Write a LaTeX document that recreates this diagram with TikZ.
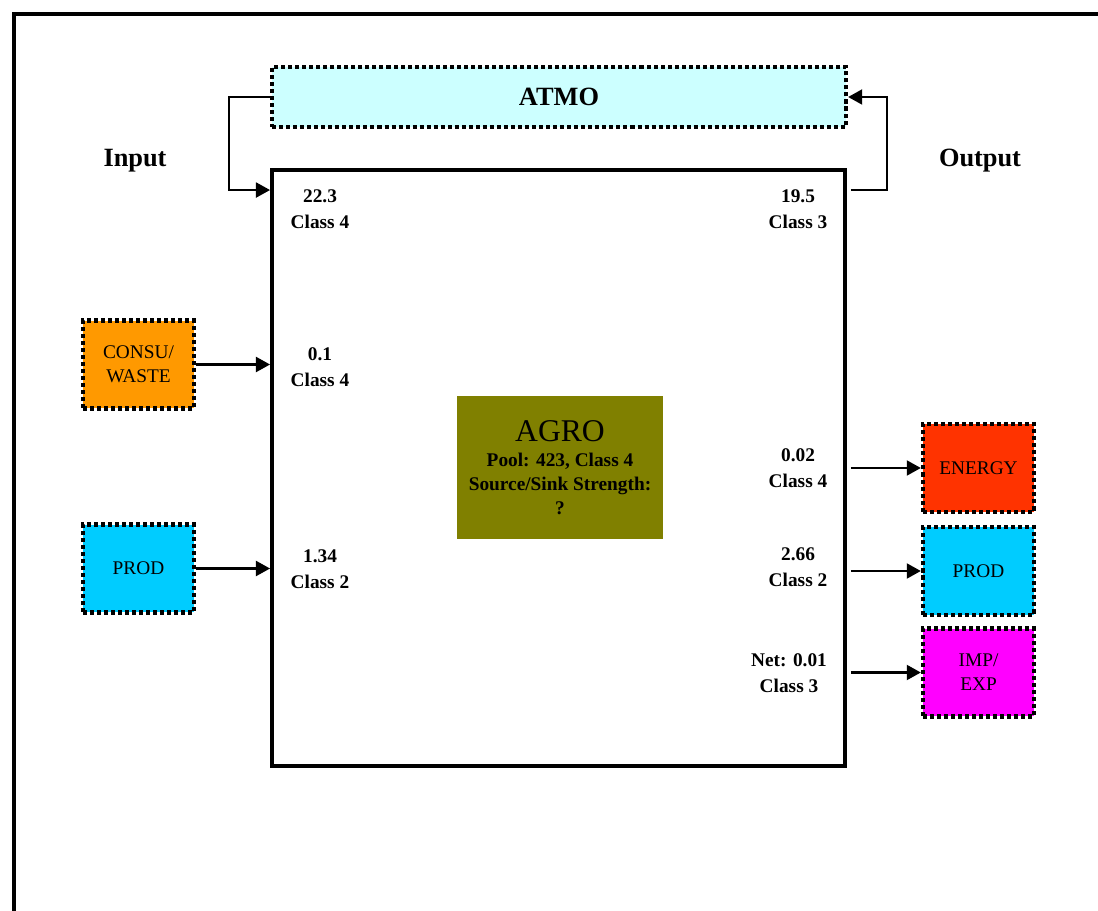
\documentclass[tikz,border=0pt]{standalone}
\usepackage{fontspec}
\setmainfont{Liberation Serif}
\usepackage{tikz}
\usepackage{xcolor}
\usetikzlibrary{arrows.meta,positioning,calc}
\definecolor{atmobg}{HTML}{CCFFFF}
\definecolor{consubg}{HTML}{FF9900}
\definecolor{prodbg}{HTML}{00CCFF}
\definecolor{agrobg}{HTML}{808000}
\definecolor{energybg}{HTML}{FF3300}
\definecolor{impbg}{HTML}{FF00FF}
\tikzset{
  poolbox/.style={draw=black,line width=2.5pt,dash pattern=on 2.3pt off 1.7pt,
                  minimum width=2.22cm,minimum height=1.76cm,
                  align=center,font=\fontsize{11}{13.6}\selectfont,inner sep=2pt},
  systembox/.style={draw=black,line width=2.3pt,
                    minimum width=11.46cm,minimum height=11.92cm,inner sep=0pt},
  flowlabel/.style={align=center,font=\fontsize{11}{14.7}\selectfont\bfseries,inner sep=1pt},
  sidehead/.style={font=\fontsize{15}{18}\selectfont\bfseries},
  flowarr/.style={-{Triangle[length=8pt,width=8.5pt]},line width=1.3pt}
}

\begin{document}
\begin{tikzpicture}[x=0.02cm,y=-0.02cm]
  \useasboundingbox (0,0) rectangle (1098,911);
  \draw[line width=2.3pt] (14,911) -- (14,14) -- (1098,14);

  \node[systembox] (main) at (558.5,468) {};
  \node[poolbox,fill=atmobg,minimum width=11.48cm,minimum height=1.2cm,
        font=\fontsize{15}{18}\selectfont\bfseries] (atmo) at (559,97) {ATMO};

  \node[sidehead] (input) at (135,161) {Input};
  \node[sidehead] (output) at (980,161) {Output};

  \node[poolbox,fill=consubg] (consu) at (138.5,364.5) {CONSU/\\WASTE};
  \node[poolbox,fill=prodbg] (prodin) at (138.5,568.5) {PROD};
  \node[poolbox,fill=energybg] (energy) at (978.5,468) {ENERGY};
  \node[poolbox,fill=prodbg] (prodout) at (978.5,571) {PROD};
  \node[poolbox,fill=impbg] (impexp) at (978.5,672.5) {IMP/\\EXP};

  \node[fill=agrobg,minimum width=4.12cm,minimum height=2.86cm,align=center,
        font=\fontsize{11}{13.5}\selectfont\bfseries] (agro) at (560,467.5)
    {{\fontsize{18}{20}\selectfont\mdseries AGRO}\\[1pt]Pool: 423, Class 4\\Source/Sink Strength:\\?};

  % flux values next to the system border
  \node[flowlabel] (f223) at (320,209) {22.3\\Class 4};
  \node[flowlabel] (f01) at (320,367) {0.1\\Class 4};
  \node[flowlabel] (f134) at (320,569) {1.34\\Class 2};
  \node[flowlabel] (f195) at (798,209) {19.5\\Class 3};
  \node[flowlabel] (f002) at (798,468) {0.02\\Class 4};
  \node[flowlabel] (f266) at (798,567.5) {2.66\\Class 2};
  \node[flowlabel] (fnet) at (789,673) {Net: 0.01\\Class 3};

  \draw[flowarr] (atmo.west) -- ++(-41,0) |- ($(main.north west)+(0,22)$);
  \draw[flowarr] ($(main.north east)+(4,22)$) -- ++(36,0) |- (atmo.east);
  \draw[flowarr] (consu.east) -- (consu.east -| main.west);
  \draw[flowarr] (prodin.east) -- (prodin.east -| main.west);
  \foreach \dest in {energy,prodout,impexp} {
    \draw[flowarr] ($(main.east |- \dest.west)+(4,0)$) -- (\dest.west);
  }
\end{tikzpicture}
\end{document}
